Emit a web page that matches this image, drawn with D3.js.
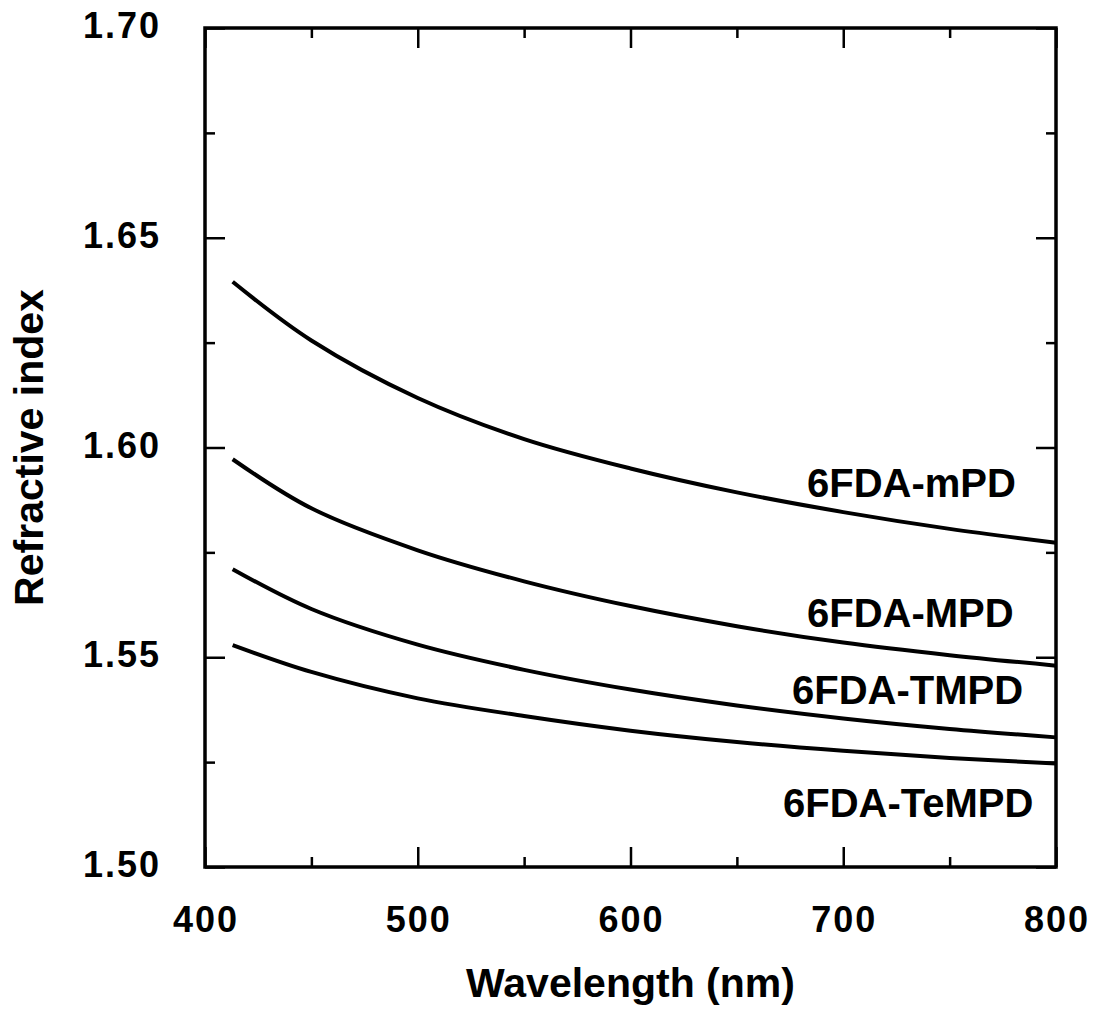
<!DOCTYPE html>
<html>
<head>
<meta charset="utf-8">
<script src="https://cdn.jsdelivr.net/npm/d3@7"></script>
<style>
  html, body { margin: 0; padding: 0; background: #fff; }
  svg { display: block; font-family: "Liberation Sans", Arial, Helvetica, sans-serif; }
</style>
</head>
<body>
<svg id="chart" width="1097" height="1014"></svg>
<script>
// ---- data ----
const wavelengths = [413, 450, 500, 550, 600, 650, 700, 750, 800];
const mPD   = [1.6395, 1.6255, 1.6118, 1.6020, 1.5950, 1.5893, 1.5846, 1.5806, 1.5773];
const MPD   = [1.5972, 1.5855, 1.5755, 1.5681, 1.5622, 1.5574, 1.5535, 1.5505, 1.5480];
const TMPD  = [1.5710, 1.5615, 1.5530, 1.5470, 1.5423, 1.5385, 1.5354, 1.5329, 1.5309];
const TeMPD = [1.5529, 1.5465, 1.5402, 1.5360, 1.5325, 1.5298, 1.5277, 1.5260, 1.5247];
const seriesNames = ["6FDA-mPD", "6FDA-MPD", "6FDA-TMPD", "6FDA-TeMPD"];
const xTicks = [400, 500, 600, 700, 800];
const xMinor = [450, 550, 650, 750];
const yTicks = [1.50, 1.55, 1.60, 1.65, 1.70];
const yMinor = [1.525, 1.575, 1.625, 1.675];
const xLabel = "Wavelength (nm)";
const yLabel = "Refractive index";

(function () {
// ---- layout ----
const L = 205, R = 1056, T = 28, B = 867;
const svg = d3.select("#chart");
const x = d3.scaleLinear().domain([400, 800]).range([L, R]);
const y = d3.scaleLinear().domain([1.50, 1.70]).range([B, T]);

const series = [mPD, MPD, TMPD, TeMPD];
const labelPos = [
  {x: 807, y: 497},
  {x: 807, y: 627},
  {x: 792, y: 704},
  {x: 783, y: 817}
];

// curves
const line = d3.line()
  .x((d, i) => x(wavelengths[i]))
  .y(d => y(d))
  .curve(d3.curveCatmullRom.alpha(0.5));

svg.append("g").selectAll("path").data(series).join("path")
  .attr("d", d => line(d))
  .attr("fill", "none")
  .attr("stroke", "#000")
  .attr("stroke-width", 4)
  .attr("stroke-linecap", "butt");

// axes with inward ticks (major + minor), mirrored
function tickAxis(axisGen, tr) {
  const g = svg.append("g").attr("transform", tr).call(axisGen);
  g.select(".domain").remove();
  g.selectAll("text").remove();
  g.selectAll("line").attr("stroke", "#000").attr("stroke-width", 2.5);
  return g;
}
tickAxis(d3.axisBottom(x).tickValues(xTicks).tickSize(-20), `translate(0,${B})`);
tickAxis(d3.axisBottom(x).tickValues(xMinor).tickSize(-10), `translate(0,${B})`);
tickAxis(d3.axisTop(x).tickValues(xTicks).tickSize(-20), `translate(0,${T})`);
tickAxis(d3.axisTop(x).tickValues(xMinor).tickSize(-10), `translate(0,${T})`);
tickAxis(d3.axisLeft(y).tickValues(yTicks).tickSize(-20), `translate(${L},0)`);
tickAxis(d3.axisLeft(y).tickValues(yMinor).tickSize(-10), `translate(${L},0)`);
tickAxis(d3.axisRight(y).tickValues(yTicks).tickSize(-20), `translate(${R},0)`);
tickAxis(d3.axisRight(y).tickValues(yMinor).tickSize(-10), `translate(${R},0)`);

// frame
svg.append("rect")
  .attr("x", L).attr("y", T)
  .attr("width", R - L).attr("height", B - T)
  .attr("fill", "none").attr("stroke", "#000").attr("stroke-width", 3.5);

// tick labels
svg.append("g").selectAll("text").data(xTicks).join("text")
  .attr("x", d => x(d) + 1).attr("y", 932)
  .attr("text-anchor", "middle")
  .attr("font-size", 36).attr("font-weight", "bold")
  .attr("letter-spacing", 2)
  .text(d => d);

svg.append("g").selectAll("text").data(yTicks).join("text")
  .attr("x", 161).attr("y", d => y(d) + 10)
  .attr("text-anchor", "end")
  .attr("font-size", 36).attr("font-weight", "bold")
  .attr("letter-spacing", 2)
  .text(d => d.toFixed(2));

// axis titles
svg.append("text")
  .attr("x", (L + R) / 2).attr("y", 997)
  .attr("text-anchor", "middle")
  .attr("font-size", 41).attr("font-weight", "bold")
  .text(xLabel);

svg.append("text")
  .attr("transform", `translate(43,${(T + B) / 2}) rotate(-90)`)
  .attr("text-anchor", "middle")
  .attr("font-size", 41).attr("font-weight", "bold")
  .text(yLabel);

// series labels
svg.append("g").selectAll("text").data(seriesNames).join("text")
  .attr("x", (d, i) => labelPos[i].x).attr("y", (d, i) => labelPos[i].y)
  .attr("font-size", 40).attr("font-weight", "bold")
  .text(d => d);
})();
</script>
</body>
</html>
